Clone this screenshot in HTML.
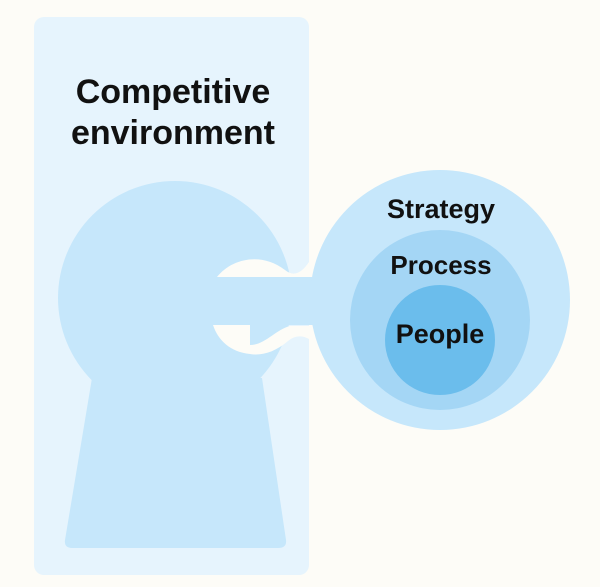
<!DOCTYPE html>
<html><head><style>body{margin:0;background:#fdfcf7}</style></head><body>
<svg width="600" height="587" viewBox="0 0 600 587" xmlns="http://www.w3.org/2000/svg" style="display:block">
<rect width="600" height="587" fill="#fdfcf7"/>
<rect x="34" y="17" width="275" height="558" rx="10" fill="#e6f4fd"/>
<circle cx="175" cy="298" r="117" fill="#c6e7fb"/>
<path d="M92 378 L262 378 L286 540 Q287 548 278 548 L72 548 Q64 548 65 540 Z" fill="#c6e7fb"/>
<path d="M217 277 C232 258 262 252 285 270 Q297 280 309 262 L309 277 Z" fill="#fdfcf7"/>
<path d="M213 325 L250 325 L250 345 C265 345 275 330 290 326 L309 326 L309 339 Q298 333 288 341 C275 352 262 356 250 354 C230 352 218 340 213 325 Z" fill="#fdfcf7"/>
<rect x="215" y="277" width="115" height="48" fill="#c6e7fb"/>
<circle cx="440" cy="300" r="130" fill="#c6e7fb"/>
<circle cx="440" cy="320" r="90" fill="#a4d6f5"/>
<circle cx="440" cy="340" r="55" fill="#6bbdec"/>
<g font-family="Liberation Sans, sans-serif" font-weight="bold" fill="#111" text-anchor="middle">
<text x="173" y="103" font-size="34">Competitive</text>
<text x="173" y="144" font-size="34">environment</text>
<text x="441" y="218" font-size="27">Strategy</text>
<text x="441" y="274" font-size="26">Process</text>
<text x="440" y="343" font-size="27">People</text>
</g>
</svg>
</body></html>
